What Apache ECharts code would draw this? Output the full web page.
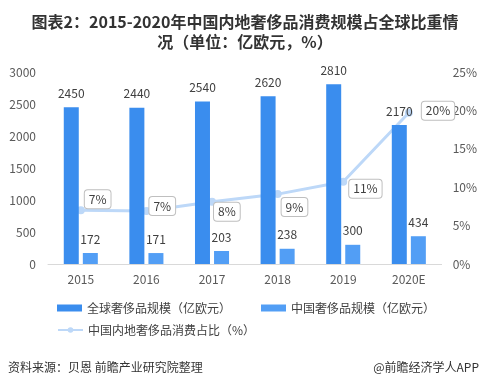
<!DOCTYPE html>
<html><head><meta charset="utf-8">
<script src="https://cdn.jsdelivr.net/npm/echarts@6/dist/echarts.min.js"></script>
<style>html,body{margin:0;padding:0;background:#fff}#c{width:480px;height:389px}</style>
</head><body><div id="c"></div>
<script>
var categories = ['2015','2016','2017','2018','2019','2020E'];
var globalLuxury = [2450, 2440, 2540, 2620, 2810, 2170];
var chinaLuxury = [172, 171, 203, 238, 300, 434];
var mainlandShare = [7.0, 6.9, 8.1, 9.1, 10.7, 19.7];
var shareLabels = ['7%','7%','8%','9%','11%','20%'];
var leftTicks = ['0','500','1000','1500','2000','2500','3000'];
var rightTicks = ['0%','5%','10%','15%','20%','25%'];

var labelOffsets = [[-5,-11],[-6,-5],[-7,10],[-5,13],[-3,7],[4,-2]];
var FONT = '"Noto Sans CJK SC", "Noto Sans", sans-serif';

var chart = echarts.init(document.getElementById('c'), null, {renderer:'canvas'});
var lineData = mainlandShare.map(function(v,i){
  return {value: v, label: {offset: labelOffsets[i]}};
});
var legendText = {fontSize:12, color:'#404040', fontFamily:FONT};
chart.setOption({
  animation:false,
  textStyle:{fontFamily:FONT},
  title:{
    text:'图表2：2015-2020年中国内地奢侈品消费规模占全球比重情\n况（单位：亿欧元，%）',
    left:240, top:7, textAlign:'center',
    textStyle:{fontSize:16, fontWeight:'bold', color:'#333', lineHeight:20, fontFamily:FONT}
  },
  grid:{left:48, right:36, top:72, bottom:125, containLabel:false},
  legend:[
    {left:52, top:297, itemWidth:25, itemHeight:7, itemGap:30, textStyle:legendText,
     data:[{name:'全球奢侈品规模（亿欧元）', icon:'rect'},{name:'中国奢侈品规模（亿欧元）', icon:'rect'}]},
    {left:52, top:319, itemWidth:25, itemHeight:7, textStyle:legendText,
     data:[{name:'中国内地奢侈品消费占比（%）'}]}
  ],
  xAxis:{
    type:'category', data:categories,
    axisLine:{lineStyle:{color:'#d9d9d9'}},
    axisTick:{show:false},
    axisLabel:{color:'#595959', fontSize:12, margin:9}
  },
  yAxis:[
    {type:'value', min:0, max:3000, interval:500,
     splitLine:{show:false}, axisLine:{show:false}, axisTick:{show:false},
     axisLabel:{color:'#595959', fontSize:12, margin:12,
       formatter:function(v){return leftTicks[Math.round(v/500)];}}},
    {type:'value', min:0, max:25, interval:5,
     splitLine:{show:false}, axisLine:{show:false}, axisTick:{show:false},
     axisLabel:{color:'#595959', fontSize:12, margin:11,
       formatter:function(v){return rightTicks[Math.round(v/5)];}}}
  ],
  series:[
    {name:'全球奢侈品规模（亿欧元）', type:'bar', data:globalLuxury, barWidth:15, barGap:'27%', z:3,
     itemStyle:{color:'#3a8dee'},
     label:{show:true, position:'top', distance:8, color:'#404040', fontSize:12}},
    {name:'中国奢侈品规模（亿欧元）', type:'bar', data:chinaLuxury, barWidth:15, z:3,
     itemStyle:{color:'#529ef5'},
     label:{show:true, position:'top', distance:8, color:'#404040', fontSize:12}},
    {name:'中国内地奢侈品消费占比（%）', type:'line', yAxisIndex:1, data:lineData, z:2,
     symbol:'circle', symbolSize:8,
     lineStyle:{color:'#bdd8f8', width:3}, itemStyle:{color:'#bdd8f8'},
     label:{show:true, position:'right', color:'#404040', fontSize:12,
       backgroundColor:'#fff', borderColor:'#bfbfbf', borderWidth:1, borderRadius:3,
       padding:[3,4,3,4],
       formatter:function(p){return shareLabels[p.dataIndex];}}}
  ],
  graphic:[
    {type:'text', left:8, top:361, style:{text:'资料来源：贝恩 前瞻产业研究院整理', fill:'#333', font:'12px '+FONT}},
    {type:'text', right:1, top:361, style:{text:'@前瞻经济学人APP', fill:'#333', font:'12px '+FONT}}
  ]
});
</script></body></html>
